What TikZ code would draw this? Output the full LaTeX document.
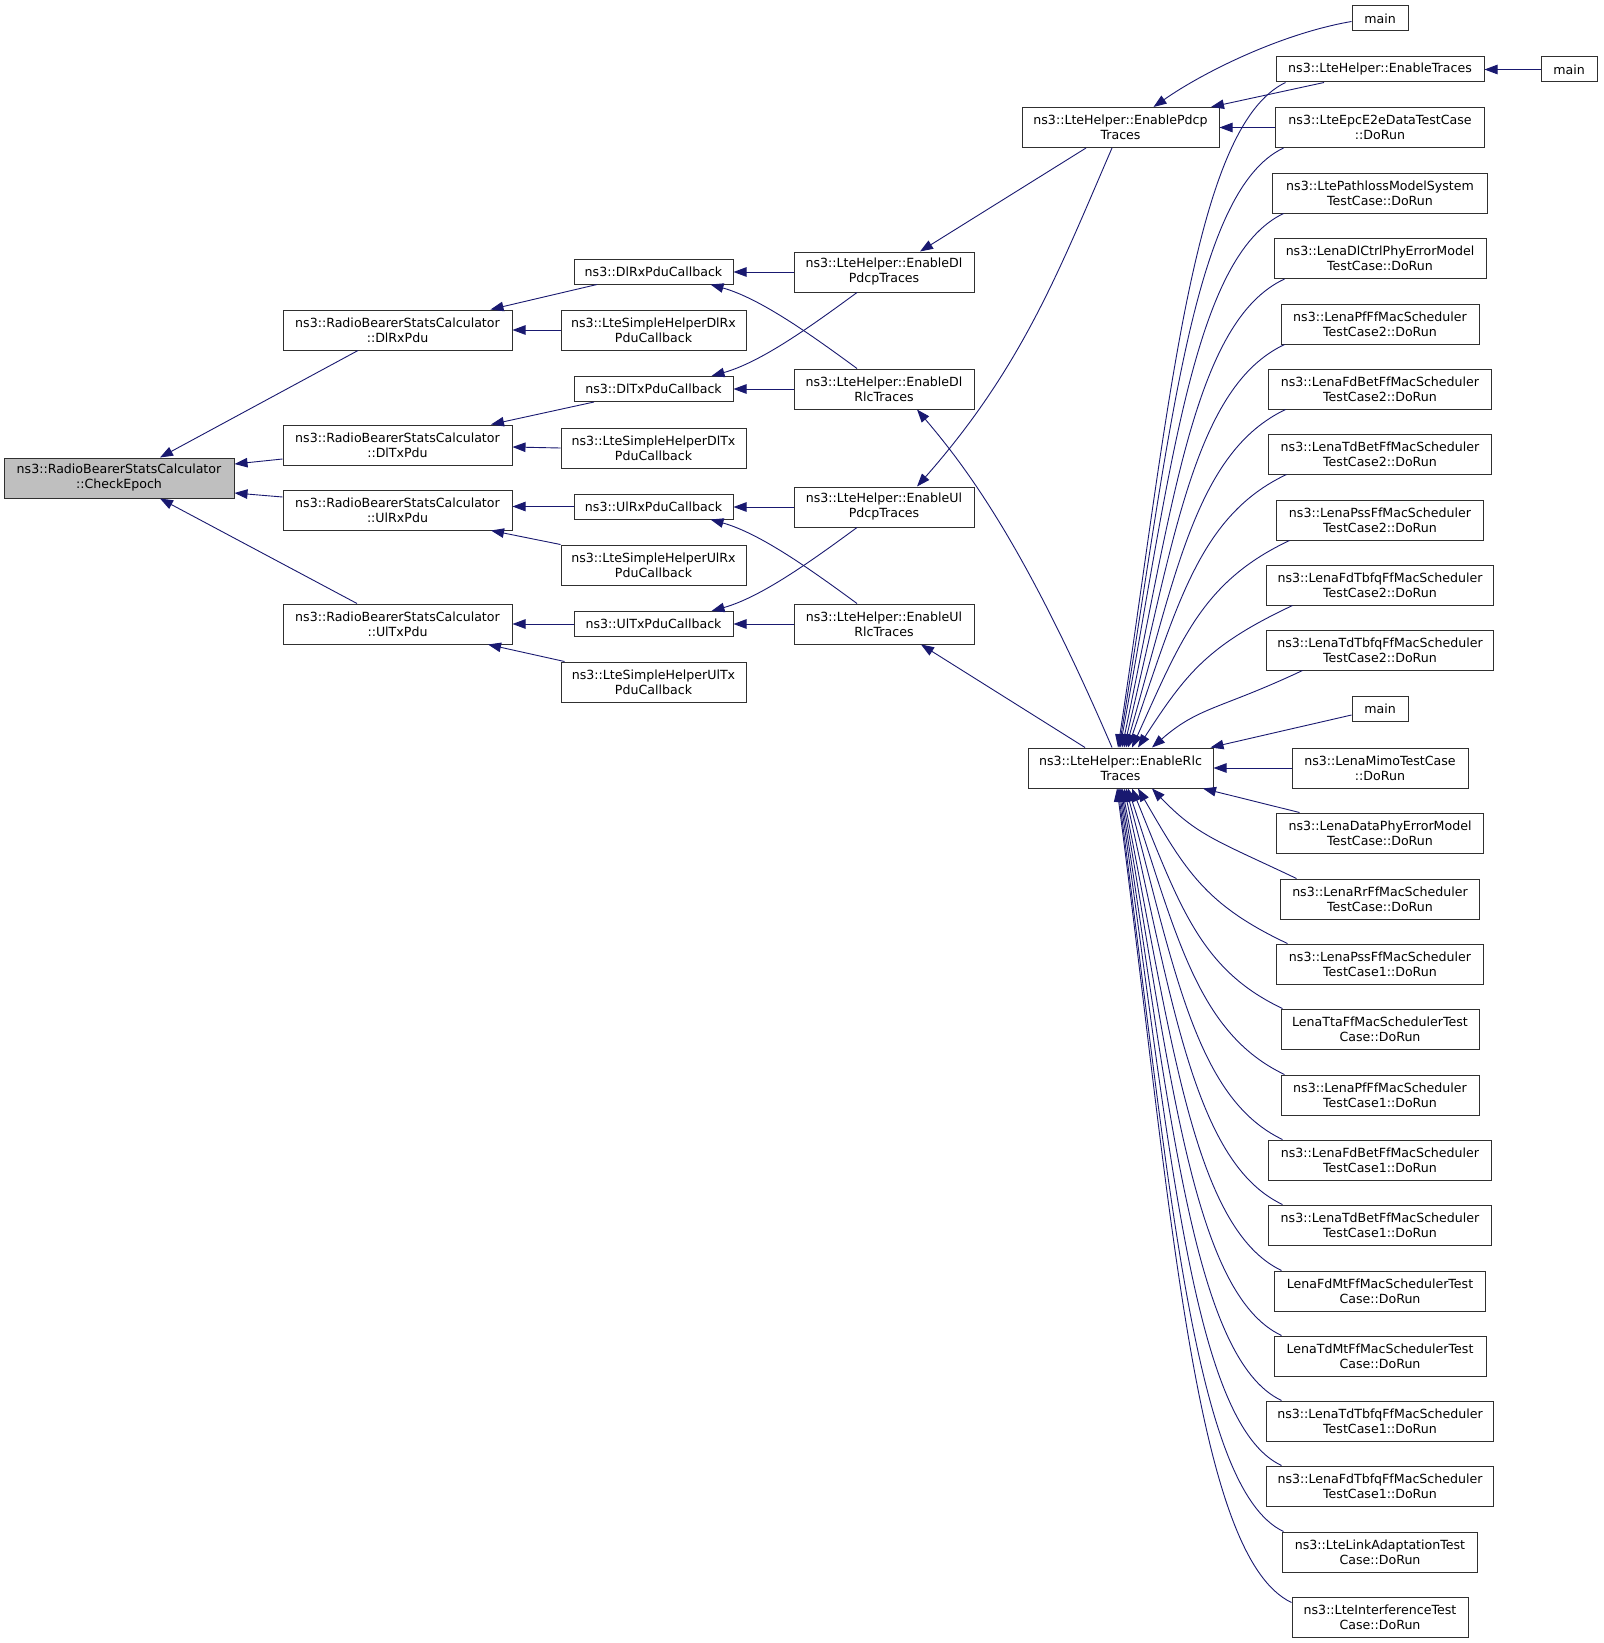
\documentclass[tikz,border=0pt]{standalone}
\usepackage{fontspec}
\setmainfont{DejaVu Sans}
\usetikzlibrary{arrows.meta}
\definecolor{edgecol}{HTML}{191970}
\definecolor{cegray}{HTML}{BFBFBF}
\definecolor{boxline}{HTML}{303030}
\begin{document}
\begin{tikzpicture}[x=1pt,y=-1pt,
  box/.style={draw=boxline, line width=1pt, fill=white, rectangle, align=center, inner sep=1pt, text=black, font=\fontsize{12.6}{15}\selectfont},
  b/.style 2 args={box, minimum width=#1pt, minimum height=#2pt},
  edge/.style={draw=edgecol, line width=0.9pt, -{Triangle[length=13pt,width=9.5pt]}}
]
\fill[white] (0,0) rectangle (1603,1643);
\useasboundingbox (0,0) rectangle (1603,1643);

% column 1-2
\node[b={230}{40}, fill=cegray] (ce) at (119,478) {ns3::RadioBearerStatsCalculator\\::CheckEpoch};
\node[b={229}{40}] (dlrx) at (397.5,330) {ns3::RadioBearerStatsCalculator\\::DlRxPdu};
\node[b={229}{40}] (dltx) at (397.5,445) {ns3::RadioBearerStatsCalculator\\::DlTxPdu};
\node[b={229}{40}] (ulrx) at (397.5,510) {ns3::RadioBearerStatsCalculator\\::UlRxPdu};
\node[b={229}{40}] (ultx) at (397.5,624) {ns3::RadioBearerStatsCalculator\\::UlTxPdu};
% column 3
\node[b={159}{25}] (cbdlrx) at (653.5,271.5) {ns3::DlRxPduCallback};
\node[b={185}{40}] (shdlrx) at (653.5,330) {ns3::LteSimpleHelperDlRx\\PduCallback};
\node[b={159}{25}] (cbdltx) at (653.5,389) {ns3::DlTxPduCallback};
\node[b={185}{40}] (shdltx) at (653.5,448) {ns3::LteSimpleHelperDlTx\\PduCallback};
\node[b={159}{25}] (cbulrx) at (653.5,506.5) {ns3::UlRxPduCallback};
\node[b={185}{40}] (shulrx) at (653.5,565) {ns3::LteSimpleHelperUlRx\\PduCallback};
\node[b={159}{25}] (cbultx) at (653.5,624) {ns3::UlTxPduCallback};
\node[b={185}{40}] (shultx) at (653.5,682) {ns3::LteSimpleHelperUlTx\\PduCallback};
% column 4
\node[b={180}{40}] (edlpdcp) at (884,272) {ns3::LteHelper::EnableDl\\PdcpTraces};
\node[b={180}{40}] (edlrlc) at (884,389) {ns3::LteHelper::EnableDl\\RlcTraces};
\node[b={180}{40}] (eulpdcp) at (884,507) {ns3::LteHelper::EnableUl\\PdcpTraces};
\node[b={180}{40}] (eulrlc) at (884,624) {ns3::LteHelper::EnableUl\\RlcTraces};
% column 5
\node[b={197}{40}] (epdcp) at (1120.5,127.5) {ns3::LteHelper::EnablePdcp\\Traces};
\node[b={185}{40}] (erlc) at (1120.5,768) {ns3::LteHelper::EnableRlc\\Traces};
% right column
\node[b={56}{25}] (mainA) at (1380,18.5) {main};
\node[b={208}{25}] (etr) at (1380,69.5) {ns3::LteHelper::EnableTraces};
\node[b={56}{25}] (mainB) at (1569,69.5) {main};
\node[b={209}{40}] (e2e) at (1380,127.5) {ns3::LteEpcE2eDataTestCase\\::DoRun};
\node[b={215}{40}] (pathloss) at (1380,193) {ns3::LtePathlossModelSystem\\TestCase::DoRun};
\node[b={212}{40}] (dlctrl) at (1380,258.5) {ns3::LenaDlCtrlPhyErrorModel\\TestCase::DoRun};
\node[b={198}{40}] (pfB) at (1380,324) {ns3::LenaPfFfMacScheduler\\TestCase2::DoRun};
\node[b={223}{40}] (fdbetB) at (1380,389) {ns3::LenaFdBetFfMacScheduler\\TestCase2::DoRun};
\node[b={223}{40}] (tdbetB) at (1380,454) {ns3::LenaTdBetFfMacScheduler\\TestCase2::DoRun};
\node[b={207}{40}] (pssB) at (1380,520) {ns3::LenaPssFfMacScheduler\\TestCase2::DoRun};
\node[b={227}{40}] (fdtbfqB) at (1380,585) {ns3::LenaFdTbfqFfMacScheduler\\TestCase2::DoRun};
\node[b={227}{40}] (tdtbfqB) at (1380,650) {ns3::LenaTdTbfqFfMacScheduler\\TestCase2::DoRun};
\node[b={56}{25}] (mainC) at (1380,709) {main};
\node[b={176}{40}] (mimo) at (1380,768) {ns3::LenaMimoTestCase\\::DoRun};
\node[b={207}{40}] (dataphy) at (1380,833) {ns3::LenaDataPhyErrorModel\\TestCase::DoRun};
\node[b={199}{40}] (rr) at (1380,899) {ns3::LenaRrFfMacScheduler\\TestCase::DoRun};
\node[b={207}{40}] (pssA) at (1380,964) {ns3::LenaPssFfMacScheduler\\TestCase1::DoRun};
\node[b={198}{40}] (tta) at (1380,1029) {LenaTtaFfMacSchedulerTest\\Case::DoRun};
\node[b={198}{40}] (pfA) at (1380,1095) {ns3::LenaPfFfMacScheduler\\TestCase1::DoRun};
\node[b={223}{40}] (fdbetA) at (1380,1160) {ns3::LenaFdBetFfMacScheduler\\TestCase1::DoRun};
\node[b={223}{40}] (tdbetA) at (1380,1225) {ns3::LenaTdBetFfMacScheduler\\TestCase1::DoRun};
\node[b={211}{40}] (fdmt) at (1380,1291) {LenaFdMtFfMacSchedulerTest\\Case::DoRun};
\node[b={212}{40}] (tdmt) at (1380,1356) {LenaTdMtFfMacSchedulerTest\\Case::DoRun};
\node[b={227}{40}] (tdtbfqA) at (1380,1421) {ns3::LenaTdTbfqFfMacScheduler\\TestCase1::DoRun};
\node[b={227}{40}] (fdtbfqA) at (1380,1486) {ns3::LenaFdTbfqFfMacScheduler\\TestCase1::DoRun};
\node[b={195}{40}] (linkad) at (1380,1552) {ns3::LteLinkAdaptationTest\\Case::DoRun};
\node[b={176}{40}] (interf) at (1380,1617) {ns3::LteInterferenceTest\\Case::DoRun};

% edges into CheckEpoch
\draw[edge] ([xshift=-39.5pt]dlrx.south) -- ([xshift=41pt]ce.north);
\draw[edge] ([yshift=-14pt]dltx.west) -- ([yshift=14pt]ce.east);
\draw[edge] ([yshift=13pt]ulrx.west) -- ([yshift=-15pt]ce.east);
\draw[edge] ([xshift=-40.5pt]ultx.north) -- ([xshift=41pt]ce.south);
% edges into RBSC functions
\draw[edge] ([xshift=-56.5pt]cbdlrx.south) -- ([xshift=93pt]dlrx.north);
\draw[edge] (shdlrx.west) -- (dlrx.east);
\draw[edge] ([xshift=-59.5pt]cbdltx.south) -- ([xshift=93.5pt]dltx.north);
\draw[edge] (shdltx.west) -- ([yshift=-2pt]dltx.east);
\draw[edge] (cbulrx.west) -- (cbulrx.west -| ulrx.east);
\draw[edge] (shulrx.north west) -- ([xshift=93.5pt]ulrx.south);
\draw[edge] (cbultx.west) -- (ultx.east);
\draw[edge] ([xshift=4pt]shultx.north west) -- ([xshift=90.5pt]ultx.south);
% edges into callbacks
\draw[edge] (edlpdcp.west) -- (edlpdcp.west -| cbdlrx.east);
\draw[edge] ([xshift=-27pt]edlrlc.north) .. controls +(-45,-33) and +(50,14) .. ([xshift=57pt]cbdlrx.south);
\draw[edge] ([xshift=-27pt]edlpdcp.south) .. controls +(-45,33) and +(50,-14) .. ([xshift=58pt]cbdltx.north);
\draw[edge] (edlrlc.west) -- (cbdltx.east);
\draw[edge] (eulpdcp.west) -- (eulpdcp.west -| cbulrx.east);
\draw[edge] ([xshift=-27pt]eulrlc.north) .. controls +(-45,-33) and +(50,14) .. ([xshift=57pt]cbulrx.south);
\draw[edge] ([xshift=-27pt]eulpdcp.south) .. controls +(-45,33) and +(50,-14) .. ([xshift=58pt]cbultx.north);
\draw[edge] (eulrlc.west) -- (cbultx.east);
% edges into Dl/Ul traces
\draw[edge] ([xshift=-34.5pt]epdcp.south) -- ([xshift=36pt]edlpdcp.north);
\draw[edge] ([xshift=-8.5pt]epdcp.south) .. controls +(-52,120) and +(106,-120) .. ([xshift=33pt]eulpdcp.north);
\draw[edge] ([xshift=-8.5pt]erlc.north) .. controls +(-86,-200) and +(51,60) .. ([xshift=33pt]edlrlc.south);
\draw[edge] ([xshift=-35.5pt]erlc.north) -- ([xshift=37pt]eulrlc.south);
% edges into EnablePdcpTraces
\draw[edge] ([yshift=-3pt]mainA.west) .. controls +(-70,12) and +(50,-35) .. ([xshift=33pt]epdcp.north);
\draw[edge] ([xshift=-56pt]etr.south) -- ([xshift=90.5pt]epdcp.north);
\draw[edge] (e2e.west) -- (e2e.west -| epdcp.east);
\draw[edge] (mainB.west) -- (etr.east);
% edges into EnableRlcTraces from above
\draw[edge] ([xshift=10pt]etr.south west) .. controls +(-92,44) and +(52,-346) .. ([xshift=-2.5pt]erlc.north);
\draw[edge] ([xshift=8.5pt]e2e.south west) .. controls +(-91,43) and +(51,-312) .. ([xshift=-1.5pt]erlc.north);
\draw[edge] ([xshift=11.5pt]pathloss.south west) .. controls +(-90,43) and +(51,-278) .. ([xshift=-0.5pt]erlc.north);
\draw[edge] ([xshift=11pt]dlctrl.south west) .. controls +(-90,42) and +(51,-244) .. ([xshift=1.5pt]erlc.north);
\draw[edge] ([xshift=4pt]pfB.south west) .. controls +(-89,42) and +(50,-210) .. ([xshift=3.5pt]erlc.north);
\draw[edge] ([xshift=17.5pt]fdbetB.south west) .. controls +(-88,42) and +(50,-176) .. ([xshift=5.5pt]erlc.north);
\draw[edge] ([xshift=18.5pt]tdbetB.south west) .. controls +(-87,41) and +(49,-142) .. ([xshift=7.5pt]erlc.north);
\draw[edge] ([xshift=13.5pt]pssB.south west) .. controls +(-87,41) and +(49,-108) .. ([xshift=11.5pt]erlc.north);
\draw[edge] ([xshift=26.5pt]fdtbfqB.south west) .. controls +(-85,40) and +(48,-74) .. ([xshift=17.5pt]erlc.north);
\draw[edge] ([xshift=36.5pt]tdtbfqB.south west) .. controls +(-83,39) and +(47,-41) .. ([xshift=31.5pt]erlc.north);
\draw[edge] ([yshift=-6pt]mainC.west) -- ([xshift=-3pt]erlc.north east);
\draw[edge] (mimo.west) -- (erlc.east);
% edges into EnableRlcTraces from below
\draw[edge] ([xshift=23.5pt]dataphy.north west) -- ([xshift=82.5pt]erlc.south);
\draw[edge] ([xshift=16.5pt]rr.north west) .. controls +(-80,-38) and +(45,47) .. ([xshift=31.5pt]erlc.south);
\draw[edge] ([xshift=11.5pt]pssA.north west) .. controls +(-83,-39) and +(47,81) .. ([xshift=17.5pt]erlc.south);
\draw[edge] ([xshift=2pt]tta.north west) .. controls +(-83,-39) and +(47,115) .. ([xshift=11.5pt]erlc.south);
\draw[edge] ([xshift=4pt]pfA.north west) .. controls +(-86,-41) and +(49,149) .. ([xshift=7.5pt]erlc.south);
\draw[edge] ([xshift=14.5pt]fdbetA.north west) .. controls +(-86,-41) and +(49,183) .. ([xshift=5.5pt]erlc.south);
\draw[edge] ([xshift=14.5pt]tdbetA.north west) .. controls +(-87,-41) and +(49,217) .. ([xshift=3.5pt]erlc.south);
\draw[edge] ([xshift=7.5pt]fdmt.north west) .. controls +(-88,-42) and +(50,251) .. ([xshift=1.5pt]erlc.south);
\draw[edge] ([xshift=8pt]tdmt.north west) .. controls +(-89,-42) and +(50,285) .. ([xshift=0.5pt]erlc.south);
\draw[edge] ([xshift=15.5pt]tdtbfqA.north west) .. controls +(-89,-42) and +(50,319) .. ([xshift=-0.5pt]erlc.south);
\draw[edge] ([xshift=15.5pt]fdtbfqA.north west) .. controls +(-90,-42) and +(51,353) .. ([xshift=-1.5pt]erlc.south);
\draw[edge] ([xshift=1.5pt]linkad.north west) .. controls +(-91,-43) and +(51,387) .. ([xshift=-2.5pt]erlc.south);
\draw[edge] ([yshift=-6pt]interf.north west) .. controls +(-97,-46) and +(55,424) .. ([xshift=-3.5pt]erlc.south);
\end{tikzpicture}
\end{document}
